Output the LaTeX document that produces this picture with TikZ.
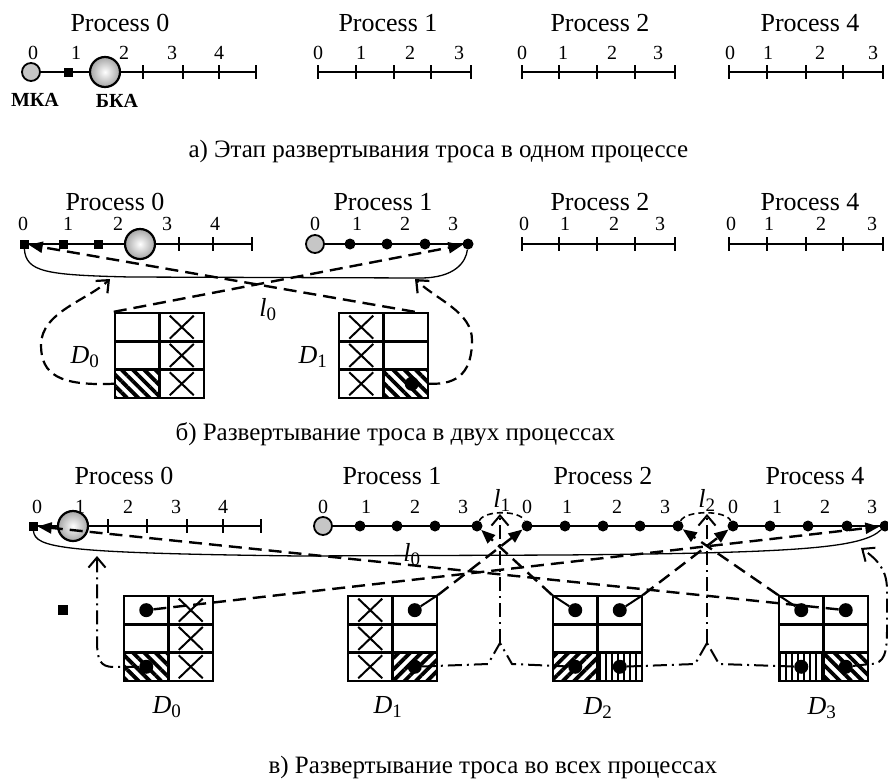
\documentclass[tikz,border=0pt]{standalone}
\usepackage{fontspec}
\setmainfont{Liberation Serif}
\usetikzlibrary{arrows.meta, positioning, patterns.meta, shapes.misc}

\begin{document}
\begin{tikzpicture}[x=1pt, y=-1pt,
    proclabel/.style={font=\fontsize{26}{30}\selectfont},
    numlabel/.style={font=\fontsize{20}{24}\selectfont},
    caption/.style={font=\fontsize{25}{30}\selectfont, anchor=base west},
    dlabel/.style={font=\fontsize{26}{30}\selectfont},
    craft/.style={font=\bfseries\fontsize{20}{24}\selectfont},
    axisline/.style={line width=2.5pt},
    tickmark/.style={line width=2pt},
    mka/.style={circle, draw, line width=1.8pt, fill=gray!45, minimum size=18pt, inner sep=0pt},
    bka/.style={circle, draw, line width=2.2pt, inner color=white, outer color=gray!70, minimum size=30pt, inner sep=0pt},
    endsq/.style={rectangle, fill=black, minimum size=9pt, inner sep=0pt},
    seg/.style={circle, fill=black, minimum size=11pt, inner sep=0pt},
    cell/.style={rectangle, draw, line width=2.4pt, minimum width=44.5pt, minimum height=28.3pt, inner sep=0pt},
    xmark/.style={cross out, draw, line width=2pt, minimum width=22pt, minimum height=21pt, inner sep=0pt},
    tdot/.style={circle, fill=black, minimum size=14pt, inner sep=0pt},
    diagA/.style={pattern={Lines[angle=-45, distance=8pt, line width=3.8pt]}},
    diagB/.style={pattern={Lines[angle=45, distance=8pt, line width=3.8pt]}},
    vert/.style={pattern={Lines[angle=90, distance=6pt, line width=1.6pt]}},
    tether/.style={line width=1.3pt},
    stub/.style={line width=2pt},
    gaparc/.style={line width=1.6pt, dash pattern=on 6pt off 4pt},
    dasharrow/.style={line width=2.4pt, dash pattern=on 13pt off 7pt, -{Triangle[length=14pt, width=11pt]}},
    dashcurve/.style={line width=2.2pt, dash pattern=on 11pt off 6pt, -{Straight Barb[length=10pt, width=17pt]}},
    ddline/.style={line width=2pt, dash pattern=on 14pt off 5pt on 2pt off 5pt},
    ddarrow/.style={ddline, -{Straight Barb[length=10pt, width=17pt]}}
]
\useasboundingbox (0,0) rectangle (888,780);

% ---------------- a) one process ----------------
\node[proclabel] (a0) at (120,23) {Process 0};
\draw[axisline] (31,72) -- (256,72);
\foreach \x in {143,183,219,256} \draw[tickmark] (\x,65) -- (\x,79);
\foreach \x/\n in {33/0,76/1,124/2,172/3,219/4} \node[numlabel] (an0-\n) at (\x,53) {\n};
\node[mka] (amka) at (31,72) {};
\node[endsq] (asq) at (68,72) {};
\node[bka] (abka) at (105,72) {};
\node[craft] (amkal) at (35,100) {МКА};
\node[craft] (abkal) at (117,101) {БКА};

\node[proclabel] (a1) at (388,23) {Process 1};
\draw[axisline] (318,72) -- (471,72);
\foreach \x in {318,356,394,431,471} \draw[tickmark] (\x,65) -- (\x,79);
\foreach \x/\n in {318/0,361/1,410/2,459/3} \node[numlabel] (an1-\n) at (\x,53) {\n};

\node[proclabel] (a2) at (600,23) {Process 2};
\draw[axisline] (522,72) -- (675,72);
\foreach \x in {522,559,597,635,675} \draw[tickmark] (\x,65) -- (\x,79);
\foreach \x/\n in {522/0,563/1,612/2,658/3} \node[numlabel] (an2-\n) at (\x,53) {\n};

\node[proclabel] (a4) at (810,23) {Process 4};
\draw[axisline] (729,72) -- (883,72);
\foreach \x in {729,767,806,843,883} \draw[tickmark] (\x,65) -- (\x,79);
\foreach \x/\n in {730/0,768/1,820/2,873/3} \node[numlabel] (an4-\n) at (\x,53) {\n};

\node[caption] (capa) at (185,157) {а) Этап развертывания троса в одном процессе};

% ---------------- b) two processes ----------------
\node[proclabel] (b0) at (115,202) {Process 0};
\draw[axisline] (24,244) -- (252,244);
\foreach \x in {179,213,252} \draw[tickmark] (\x,237) -- (\x,251);
\foreach \x/\n in {23/0,68/1,118/2,167/3,215/4} \node[numlabel] (bn0-\n) at (\x,224) {\n};
\node[endsq] (bs0) at (24,244) {};
\node[endsq] (bs1) at (63,244) {};
\node[endsq] (bs2) at (98,244) {};
\node[bka] (bbka) at (140,244) {};

\node[proclabel] (b1) at (383,202) {Process 1};
\draw[axisline] (315,244) -- (468,244);
\foreach \x/\n in {315/0,357/1,405/2,453/3} \node[numlabel] (bn1-\n) at (\x,224) {\n};
\node[mka] (bmka) at (315,244) {};
\foreach \x [count=\i] in {350,387,425,468} \node[seg] (bd\i) at (\x,244) {};

\node[proclabel] (b2) at (600,202) {Process 2};
\draw[axisline] (522,244) -- (675,244);
\foreach \x in {522,559,597,635,675} \draw[tickmark] (\x,237) -- (\x,251);
\foreach \x/\n in {524/0,565/1,614/2,660/3} \node[numlabel] (bn2-\n) at (\x,224) {\n};

\node[proclabel] (b4) at (810,202) {Process 4};
\draw[axisline] (729,244) -- (883,244);
\foreach \x in {729,767,806,843,883} \draw[tickmark] (\x,237) -- (\x,251);
\foreach \x/\n in {731/0,769/1,821/2,872/3} \node[numlabel] (bn4-\n) at (\x,224) {\n};

% tables D0, D1
\foreach \r in {1,2,3} \foreach \c in {1,2} {
  \node[cell] (bD0-\r\c) at (115+44.5*\c-22.25, 313+28.3*\r-14.15) {};
  \node[cell] (bD1-\r\c) at (339+44.5*\c-22.25, 313+28.3*\r-14.15) {};
}
\node[cell, diagA] (bD0-h) at (bD0-31) {};
\node[cell, diagA] (bD1-h) at (bD1-32) {};
\foreach \r in {1,2,3} {
  \node[xmark] (bx0-\r) at (bD0-\r2) {};
  \node[xmark] (bx1-\r) at (bD1-\r1) {};
}
\node[tdot] (bD1d) at ([xshift=6pt]bD1-32) {};
\node[dlabel] (bD0lab) at (85,357) {\textit{D}\textsubscript{\fontsize{19}{20}\selectfont 0}};
\node[dlabel] (bD1lab) at (313,357) {\textit{D}\textsubscript{\fontsize{19}{20}\selectfont 1}};
\node[dlabel] (bl0) at (268,310) {\textit{l}\textsubscript{\fontsize{19}{20}\selectfont 0}};

% tether and exchanges
\draw[tether] (bs0) .. controls (26,272) and (45,275) .. (130,277) -- (420,278) .. controls (455,278) and (466,262) .. (bd4);
\draw[dasharrow] (bD0-11.north west) -- (bd4);
\draw[dasharrow] ([xshift=9pt]bD1-12.north) -- (bs0);
\coordinate (btip0) at (110,279);
\coordinate (btip1) at (415,279);
\draw[dashcurve] (bD0-31.west) .. controls (60,386) and (41,375) .. (41,345) .. controls (41,312) and (88,300) .. (btip0);
\draw[dashcurve] (bD1-32.east) .. controls (460,385) and (472,370) .. (472,340) .. controls (472,312) and (437,300) .. (btip1);

\node[caption] (capb) at (172,440) {б) Развертывание троса в двух процессах};

% ---------------- c) all processes ----------------
\node[proclabel] (c0) at (124,476) {Process 0};
\draw[axisline] (33,526) -- (261,526);
\foreach \x in {108,147,187,223,261} \draw[tickmark] (\x,519) -- (\x,533);
\foreach \x/\n in {37/0,80/1,128/2,176/3,223/4} \node[numlabel] (cn0-\n) at (\x,507) {\n};
\node[endsq] (csq) at (33,526) {};
\node[bka] (cbka) at (73,526) {};

\node[proclabel] (c1) at (392,476) {Process 1};
\draw[axisline] (323,526) -- (477,526);
\foreach \x/\n in {323/0,366/1,415/2,463/3} \node[numlabel] (cn1-\n) at (\x,507) {\n};
\node[mka] (cmka) at (323,526) {};
\foreach \x [count=\i] in {360,397,435,477} \node[seg] (c1d\i) at (\x,526) {};

\node[proclabel] (c2) at (603,476) {Process 2};
\draw[axisline] (527,526) -- (678,526);
\foreach \x/\n in {527/0,567/1,617/2,665/3} \node[numlabel] (cn2-\n) at (\x,507) {\n};
\foreach \x [count=\i from 0] in {527,565,603,640,678} \node[seg] (c2d\i) at (\x,526) {};

\node[proclabel] (c4) at (815,476) {Process 4};
\draw[axisline] (733,526) -- (885,526);
\foreach \x/\n in {733/0,777/1,825/2,872/3} \node[numlabel] (cn4-\n) at (\x,507) {\n};
\foreach \x [count=\i from 0] in {733,770,808,847,885} \node[seg] (c4d\i) at (\x,526) {};

% joints between processes
\draw[gaparc] (c1d4) .. controls (484,510) and (520,510) .. (c2d0);
\draw[gaparc] (c2d4) .. controls (686,510) and (726,510) .. (c4d0);
\node[dlabel] (cl1) at (502,500) {\textit{l}\textsubscript{\fontsize{19}{20}\selectfont 1}};
\node[dlabel] (cl2) at (707,500) {\textit{l}\textsubscript{\fontsize{19}{20}\selectfont 2}};

% tables D0..D3
\foreach \tn/\tx in {cD0/124, cD1/348, cD2/553, cD3/779}
  \foreach \r in {1,2,3} \foreach \c in {1,2}
    \node[cell] (\tn-\r\c) at (\tx+44.5*\c-22.25, 596+28.3*\r-14.15) {};
\node[cell, diagA] (cD0-h) at (cD0-31) {};
\node[cell, diagB] (cD1-h) at (cD1-32) {};
\node[cell, diagB] (cD2-h1) at (cD2-31) {};
\node[cell, vert] (cD2-h2) at (cD2-32) {};
\node[cell, vert] (cD3-h1) at (cD3-31) {};
\node[cell, diagA] (cD3-h2) at (cD3-32) {};
\foreach \r in {1,2,3} {
  \node[xmark] (cx0-\r) at (cD0-\r2) {};
  \node[xmark] (cx1-\r) at (cD1-\r1) {};
}
\foreach \tn/\cc in {cD0/11, cD0/31, cD1/12, cD1/32, cD2/11, cD2/12, cD2/31, cD2/32, cD3/11, cD3/12, cD3/31, cD3/32}
  \node[tdot] (\tn d\cc) at (\tn-\cc) {};
\node[endsq, minimum size=10pt] (csq2) at (63,610) {};
\node[dlabel] (cD0lab) at (167,707) {\textit{D}\textsubscript{\fontsize{19}{20}\selectfont 0}};
\node[dlabel] (cD1lab) at (388,707) {\textit{D}\textsubscript{\fontsize{19}{20}\selectfont 1}};
\node[dlabel] (cD2lab) at (598,708) {\textit{D}\textsubscript{\fontsize{19}{20}\selectfont 2}};
\node[dlabel] (cD3lab) at (822,708) {\textit{D}\textsubscript{\fontsize{19}{20}\selectfont 3}};
\node[dlabel] (cl0) at (412,555) {\textit{l}\textsubscript{\fontsize{19}{20}\selectfont 0}};

% tether
\draw[tether] (csq) .. controls (35,548) and (60,553) .. (300,556) -- (560,555) .. controls (800,553) and (862,548) .. (c4d4);

% dashed exchanges
\draw[dasharrow] (cD0d11) -- (c4d4);
\draw[dasharrow] (cD3d12) -- (csq);
\draw[stub] (cD1d12) -- (cD1-12.north east);
\draw[dasharrow] (cD1-12.north east) -- (c2d0);
\draw[stub] (cD2d11) -- (cD2-11.north west);
\draw[dasharrow] (cD2-11.north west) -- (c1d4);
\draw[stub] (cD2d12) -- (cD2-12.north east);
\draw[dasharrow] (cD2-12.north east) -- (c4d0);
\draw[stub] (cD3d11) -- (cD3-11.north west);
\draw[dasharrow] (cD3-11.north west) -- (c2d4);

% dash-dot links from tether ends
\coordinate (ctip0) at (97,556);
\coordinate (ctip4) at (861,548);
\coordinate (cusp1) at (500,643);
\coordinate (cusp2) at (707,643);
\coordinate (ltip1) at (500,514);
\coordinate (ltip2) at (707,514);
\draw[ddarrow] (cD0d31) -- (114,667) .. controls (100,667) and (97,660) .. (97,640) -- (ctip0);
\draw[ddline] (cD1d32) -- (488,664) -- (cusp1);
\draw[ddline] (cD2d31) -- (512,664) -- (cusp1);
\draw[ddarrow] (cusp1) -- (ltip1);
\draw[ddline] (cD2d32) -- (695,664) -- (cusp2);
\draw[ddline] (cD3d31) -- (719,664) -- (cusp2);
\draw[ddarrow] (cusp2) -- (ltip2);
\draw[ddarrow] (cD3d32) -- (870,664) .. controls (885,664) and (887,652) .. (887,630) -- (887,590) .. controls (887,570) and (878,560) .. (ctip4);

\node[caption] (capc) at (265,773) {в) Развертывание троса во всех процессах};
\end{tikzpicture}
\end{document}
